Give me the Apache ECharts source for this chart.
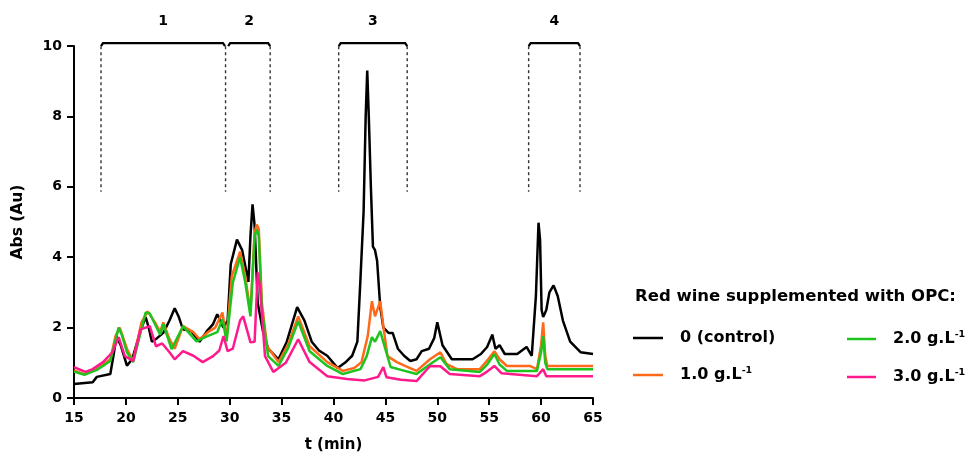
<!DOCTYPE html>
<html>
<head>
<meta charset="utf-8">
<script src="https://cdn.jsdelivr.net/npm/echarts@6/dist/echarts.min.js"></script>
<style>
html,body{margin:0;padding:0;background:#fff;}
#chart{width:970px;height:458px;}
</style>
</head>
<body>
<div id="chart"></div>
<script>
// ---- Data ----
var seriesNames = ['0 (control)', '1.0 g.L-1', '2.0 g.L-1', '3.0 g.L-1'];
var yTicks = [0, 2, 4, 6, 8, 10];
var xTicks = [15, 20, 25, 30, 35, 40, 45, 50, 55, 60, 65];

var tBlack = [15, 16.8, 17.2, 18.5, 18.8, 19.1, 19.5, 20.1, 20.6, 21.4, 21.9, 22.2, 22.5, 23.0, 23.6, 24.2, 24.7, 25.1, 25.5, 26.3, 27.1, 27.8, 28.4, 28.8, 29.4, 29.8, 30.1, 30.7, 31.2, 31.8, 32.0, 32.2, 32.4, 32.7, 33.2, 33.7, 34.7, 35.5, 36.5, 37.2, 37.9, 38.6, 39.4, 40.4, 41.1, 41.8, 42.3, 42.6, 42.9, 43.1, 43.25, 43.4, 43.6, 43.8, 44.0, 44.2, 44.5, 44.8, 45.3, 45.7, 46.2, 46.8, 47.4, 48.0, 48.5, 49.2, 49.7, 50.0, 50.5, 51.4, 52.5, 53.4, 54.2, 54.8, 55.3, 55.6, 56.0, 56.5, 57.7, 58.6, 59.1, 59.5, 59.75, 59.9, 60.05, 60.2, 60.5, 60.8, 61.2, 61.6, 62.1, 62.8, 63.8, 65];
var vBlack = [0.40, 0.45, 0.60, 0.68, 1.20, 1.75, 1.50, 0.92, 1.10, 1.90, 2.30, 2.00, 1.60, 1.70, 1.85, 2.20, 2.55, 2.30, 1.95, 1.90, 1.60, 1.90, 2.10, 2.38, 2.00, 2.20, 3.80, 4.50, 4.20, 3.30, 4.60, 5.50, 4.90, 2.70, 1.90, 1.40, 1.10, 1.60, 2.58, 2.20, 1.60, 1.35, 1.20, 0.85, 1.00, 1.20, 1.60, 3.40, 5.30, 8.00, 9.30, 8.00, 6.00, 4.30, 4.20, 3.90, 2.60, 2.00, 1.85, 1.85, 1.40, 1.20, 1.05, 1.10, 1.33, 1.40, 1.70, 2.15, 1.50, 1.10, 1.10, 1.10, 1.25, 1.45, 1.80, 1.40, 1.50, 1.25, 1.25, 1.45, 1.20, 2.90, 4.98, 4.50, 2.50, 2.30, 2.50, 3.00, 3.20, 2.90, 2.20, 1.60, 1.30, 1.25];

var tOrange = [15, 16.0, 17.2, 18.5, 19.0, 19.4, 20.1, 20.7, 21.5, 22.1, 22.8, 23.3, 23.6, 24.2, 24.7, 25.5, 26.5, 27.1, 27.9, 28.6, 29.3, 29.7, 30.2, 31.0, 31.5, 32.0, 32.4, 32.6, 32.8, 33.1, 33.6, 34.7, 35.6, 36.6, 37.7, 39.4, 40.9, 42.0, 42.7, 43.3, 43.7, 44.0, 44.5, 44.8, 45.2, 46.1, 47.0, 48.0, 49.3, 50.3, 50.9, 51.9, 54.1, 54.9, 55.5, 56.0, 56.7, 58.9, 59.6, 60.0, 60.2, 60.4, 60.6, 65];
var vOrange = [0.78, 0.68, 0.82, 1.10, 1.76, 2.00, 1.40, 1.05, 2.15, 2.46, 2.15, 1.87, 2.15, 1.67, 1.40, 2.04, 1.87, 1.67, 1.87, 2.00, 2.43, 1.67, 3.46, 4.16, 3.46, 2.43, 4.70, 4.93, 4.80, 2.70, 1.47, 1.02, 1.50, 2.32, 1.47, 1.02, 0.77, 0.85, 1.02, 1.76, 2.75, 2.32, 2.75, 2.04, 1.19, 1.02, 0.90, 0.77, 1.10, 1.30, 0.96, 0.82, 0.82, 1.10, 1.33, 1.10, 0.91, 0.91, 0.82, 1.50, 2.15, 1.20, 0.91, 0.91];

var tGreen = [15, 16.0, 17.2, 18.5, 19.3, 19.6, 20.1, 20.7, 21.9, 22.3, 22.9, 23.3, 23.6, 24.4, 25.5, 26.8, 27.8, 28.8, 29.3, 29.7, 30.3, 31.0, 31.5, 32.0, 32.4, 32.6, 32.8, 33.1, 33.7, 34.7, 35.6, 36.6, 37.7, 39.4, 40.9, 42.6, 43.2, 43.7, 44.0, 44.5, 45.0, 45.5, 46.5, 48.0, 49.3, 50.3, 51.2, 54.1, 54.8, 55.5, 56.0, 56.7, 59.6, 60.0, 60.2, 60.4, 60.6, 65];
var vGreen = [0.75, 0.66, 0.80, 1.05, 2.00, 1.80, 1.30, 1.02, 2.43, 2.40, 2.04, 1.80, 2.10, 1.39, 2.04, 1.61, 1.75, 1.87, 2.24, 1.61, 3.28, 4.00, 3.28, 2.32, 4.60, 4.79, 4.60, 2.52, 1.19, 0.91, 1.40, 2.18, 1.33, 0.91, 0.68, 0.82, 1.19, 1.73, 1.60, 1.90, 1.39, 0.88, 0.80, 0.68, 0.96, 1.16, 0.82, 0.74, 0.95, 1.25, 0.95, 0.77, 0.77, 1.30, 1.76, 1.00, 0.82, 0.82];

var tPink = [15, 16.1, 16.8, 17.8, 18.7, 19.3, 19.9, 20.7, 21.4, 22.3, 22.9, 23.5, 24.2, 24.7, 25.5, 26.5, 27.4, 28.4, 29.0, 29.4, 29.8, 30.3, 31.0, 31.3, 32.0, 32.4, 32.7, 32.9, 33.4, 34.2, 35.4, 36.6, 37.7, 39.4, 41.3, 43.0, 44.3, 44.8, 45.1, 46.5, 48.0, 49.3, 50.3, 51.2, 54.1, 54.8, 55.5, 56.2, 59.6, 60.2, 60.5, 65];
var vPink = [0.88, 0.74, 0.82, 1.02, 1.30, 1.73, 1.19, 1.05, 1.95, 2.04, 1.47, 1.55, 1.30, 1.10, 1.33, 1.20, 1.02, 1.19, 1.35, 1.76, 1.33, 1.40, 2.20, 2.32, 1.58, 1.60, 3.57, 3.20, 1.19, 0.74, 1.00, 1.67, 1.02, 0.62, 0.54, 0.50, 0.60, 0.88, 0.59, 0.52, 0.48, 0.91, 0.90, 0.68, 0.62, 0.75, 0.91, 0.70, 0.62, 0.82, 0.62, 0.62];

// fraction brackets (minutes)
var bracketLabels = ['1', '2', '3', '4'];
var bracketStart = [17.6, 29.85, 40.5, 58.8];
var bracketEnd = [29.55, 33.9, 47.1, 63.75];
var dashPositions = [17.6, 29.6, 33.9, 40.5, 47.1, 58.8, 63.75];
var bracketTop = 10.08;
var dashBottom = 5.86;
var labelLevel = 10.7;

var legendTitle = 'Red wine supplemented with OPC:';

// ---- Build ----
function pairs(t, v) { return t.map(function (x, i) { return [x, v[i]]; }); }
var colors = ['#000000', '#ff6a1a', '#1ec31e', '#ff1a8c'];
var seriesData = [pairs(tBlack, vBlack), pairs(tOrange, vOrange), pairs(tGreen, vGreen), pairs(tPink, vPink)];

var FONT = '"DejaVu Sans", Verdana, sans-serif';

var series = seriesNames.map(function (n, i) {
  return {
    name: n, type: 'line', data: seriesData[i], showSymbol: false, symbol: 'none',
    lineStyle: { color: colors[i], width: 2.5 }, itemStyle: { color: colors[i] },
    z: 2 + i, animation: false
  };
});

series.push({
  type: 'custom', name: 'brackets', clip: false, silent: true, z: 10,
  data: bracketStart.map(function (s, i) { return [s, bracketEnd[i], i]; }),
  renderItem: function (params, api) {
    var s = api.value(0), e = api.value(1), idx = api.value(2);
    var p1 = api.coord([s, bracketTop]);
    var p2 = api.coord([e, bracketTop]);
    var lab = api.coord([(s + e) / 2, labelLevel]);
    return {
      type: 'group', children: [
        { type: 'polyline', shape: { points: [[p1[0], p1[1] + 3], [p1[0] + 2, p1[1]], [p2[0] - 2, p2[1]], [p2[0], p2[1] + 3]] },
          style: { stroke: '#000', lineWidth: 2.2, fill: null } },
        { type: 'text', x: lab[0], y: lab[1], style: { text: bracketLabels[idx], font: 'bold 14px ' + FONT, fill: '#000', align: 'center', verticalAlign: 'middle' } }
      ]
    };
  }
});

series.push({
  type: 'custom', name: 'dashes', clip: false, silent: true, z: 9,
  data: dashPositions.map(function (x) { return [x]; }),
  renderItem: function (params, api) {
    var x = api.value(0);
    var a = api.coord([x, bracketTop]);
    var b = api.coord([x, dashBottom]);
    return { type: 'line', shape: { x1: a[0], y1: a[1] + 3, x2: b[0], y2: b[1] },
      style: { stroke: '#333', lineWidth: 1.4, lineDash: [3, 3] } };
  }
});

function legendFmt(name) {
  if (name.slice(-2) === '-1') return '{a|' + name.slice(0, -2) + '}{s|-1}';
  return '{a|' + name + '}';
}
var legendText = {
  rich: {
    a: { fontFamily: FONT, fontWeight: 'bold', fontSize: 16, color: '#000', lineHeight: 18, padding: [0, 0, 0, 12] },
    s: { fontFamily: FONT, fontWeight: 'bold', fontSize: 9.5, color: '#000', lineHeight: 18, verticalAlign: 'top', padding: [0, 0, 8, 0] }
  }
};

var chart = echarts.init(document.getElementById('chart'), null, { renderer: 'canvas' });
chart.setOption({
  animation: false,
  backgroundColor: '#fff',
  color: colors,
  grid: { left: 74, right: 377, top: 46, bottom: 59, containLabel: false },
  title: {
    text: legendTitle, left: 635, top: 288, padding: 0,
    textStyle: { fontFamily: FONT, fontWeight: 'bold', fontSize: 16.5, color: '#000' }
  },
  legend: [
    { data: [seriesNames[0], seriesNames[1]], orient: 'vertical', left: 633, top: 330, itemGap: 20, padding: 0,
      icon: 'rect', itemWidth: 30, itemHeight: 2.5, selectedMode: false, textStyle: legendText, formatter: legendFmt },
    { data: [seriesNames[2], seriesNames[3]], orient: 'vertical', left: 847, top: 330, itemGap: 20, padding: 0,
      icon: 'rect', itemWidth: 29, itemHeight: 2.5, selectedMode: false, textStyle: legendText, formatter: legendFmt }
  ],
  xAxis: {
    type: 'value', min: xTicks[0], max: xTicks[xTicks.length - 1], interval: 5,
    name: 't (min)', nameLocation: 'middle', nameGap: 40,
    nameTextStyle: { fontFamily: FONT, fontWeight: 'bold', fontSize: 15, color: '#000' },
    axisLine: { show: true, onZero: false, lineStyle: { color: '#000', width: 2 } },
    axisTick: { show: true, length: 7, lineStyle: { color: '#000', width: 2 } },
    axisLabel: { fontFamily: FONT, fontWeight: 'bold', fontSize: 14, color: '#000', margin: 13 },
    splitLine: { show: false }
  },
  yAxis: {
    type: 'value', min: yTicks[0], max: yTicks[yTicks.length - 1], interval: 2,
    name: 'Abs (Au)', nameLocation: 'middle', nameGap: 48, nameRotate: 90,
    nameTextStyle: { fontFamily: FONT, fontWeight: 'bold', fontSize: 15.5, color: '#000' },
    axisLine: { show: true, onZero: false, lineStyle: { color: '#000', width: 2 } },
    axisTick: { show: true, length: 7, lineStyle: { color: '#000', width: 2 } },
    axisLabel: { fontFamily: FONT, fontWeight: 'bold', fontSize: 14, color: '#000', margin: 12 },
    splitLine: { show: false }
  },
  series: series
});
</script>
</body>
</html>
